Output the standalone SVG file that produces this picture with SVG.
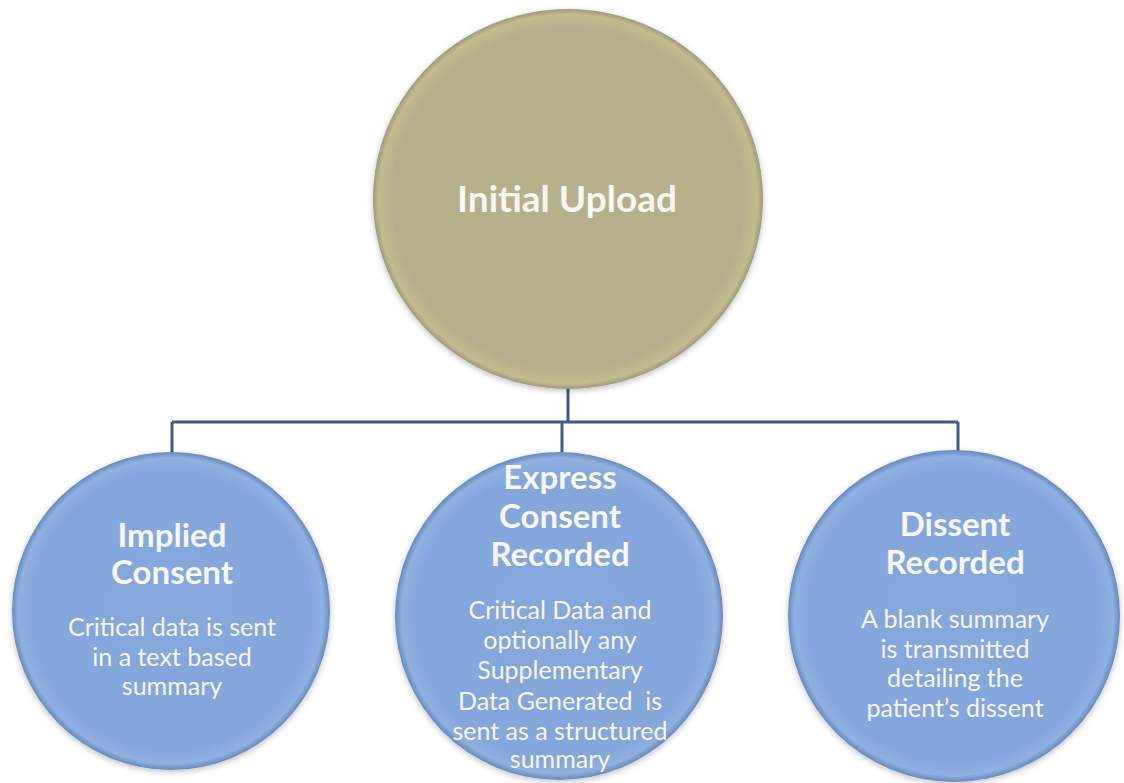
<svg xmlns="http://www.w3.org/2000/svg" width="1124" height="783" viewBox="0 0 1124 783">
<style>
.t{font-family:Lato,"Open Sans","Liberation Sans",sans-serif;fill:#f7f6f0;text-anchor:middle}
.h{font-weight:bold;font-size:33px}
.b{font-size:25px}
.conn{stroke:#3d5b85;stroke-width:3;fill:none}
</style>
<defs>
<radialGradient id="tan" cx="50%" cy="50%" r="50%">
<stop offset="0" stop-color="#b8b18b"/>
<stop offset="0.9" stop-color="#b6af89"/>
<stop offset="0.97" stop-color="#c4bb8e"/>
<stop offset="1" stop-color="#a09a7c"/>
</radialGradient>
<radialGradient id="blue" cx="50%" cy="50%" r="50%">
<stop offset="0" stop-color="#86a9dc"/>
<stop offset="0.88" stop-color="#83a7db"/>
<stop offset="0.96" stop-color="#8fb1e0"/>
<stop offset="1" stop-color="#6689bd"/>
</radialGradient>
<filter id="sh" x="-10%" y="-10%" width="120%" height="120%">
<feGaussianBlur in="SourceAlpha" stdDeviation="3"/>
<feOffset dx="0" dy="2"/>
<feComponentTransfer><feFuncA type="linear" slope="0.25"/></feComponentTransfer>
<feMerge><feMergeNode/><feMergeNode in="SourceGraphic"/></feMerge>
</filter>
</defs>
<rect width="1124" height="783" fill="#ffffff"/>
<g id="connectors">
<path class="conn" d="M568 389 V422"/>
<path class="conn" d="M172 422 H958"/>
<path class="conn" d="M172 422 V454"/>
<path class="conn" d="M562 422 V452"/>
<path class="conn" d="M958 422 V452"/>
</g>
<g id="initial-upload">
<ellipse cx="568" cy="199" rx="195" ry="190" fill="url(#tan)" filter="url(#sh)"/>
<text class="t" x="567" y="212" font-weight="bold" font-size="37">Initial Upload</text>
</g>
<g id="implied-consent">
<circle cx="171" cy="611" r="159" fill="url(#blue)" filter="url(#sh)"/>
<text class="t h" x="172" y="547">Implied</text>
<text class="t h" x="172" y="584">Consent</text>
<text class="t b" x="172" y="636">Critical data is sent</text>
<text class="t b" x="172" y="666">in a text based</text>
<text class="t b" x="172" y="695">summary</text>
</g>
<g id="express-consent">
<circle cx="559" cy="616" r="164" fill="url(#blue)" filter="url(#sh)"/>
<text class="t h" x="560" y="489">Express</text>
<text class="t h" x="560" y="528">Consent</text>
<text class="t h" x="560" y="566">Recorded</text>
<text class="t b" x="560" y="619">Critical Data and</text>
<text class="t b" x="560" y="649">optionally any</text>
<text class="t b" x="560" y="679">Supplementary</text>
<text class="t b" x="560" y="710" xml:space="preserve">Data Generated  is</text>
<text class="t b" x="560" y="740">sent as a structured</text>
<text class="t b" x="560" y="768">summary</text>
</g>
<g id="dissent-recorded">
<circle cx="954" cy="616" r="166" fill="url(#blue)" filter="url(#sh)"/>
<text class="t h" x="955" y="536">Dissent</text>
<text class="t h" x="955" y="574">Recorded</text>
<text class="t b" x="955" y="628">A blank summary</text>
<text class="t b" x="955" y="658">is transmitted</text>
<text class="t b" x="955" y="687">detailing the</text>
<text class="t b" x="955" y="717">patient’s dissent</text>
</g>
</svg>
